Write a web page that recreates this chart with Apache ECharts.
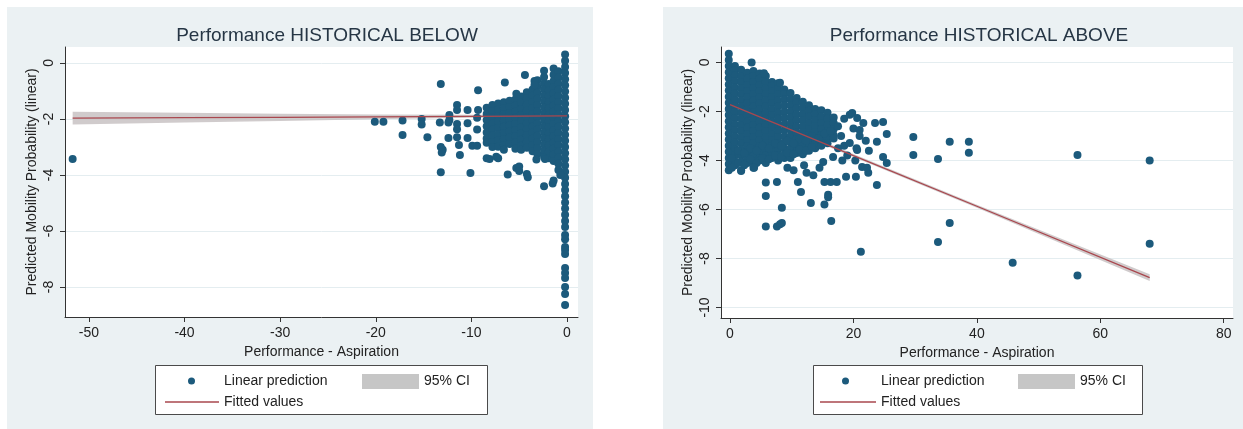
<!DOCTYPE html>
<html>
<head>
<meta charset="utf-8" />
<script src="https://cdn.jsdelivr.net/npm/echarts@6/dist/echarts.min.js"></script>
<style>
	body { margin: 0; background: #ffffff; }
	#wrap { position: relative; width: 1243px; height: 429px; }
	.panel { position: absolute; background: #ebf1f3; }
	#main { position: absolute; left: 0; top: 0; width: 1243px; height: 429px; }
</style>
</head>
<body>
<div id="wrap">
	<div class="panel" style="left:7px; top:7px; width:586px; height:422px"></div>
	<div class="panel" style="left:663px; top:7px; width:580px; height:422px"></div>
	<div id="main"></div>
</div>
<script type="text/javascript">
	var FONT = '"Liberation Sans", Arial, sans-serif';

	var leftXTicks = [-50, -40, -30, -20, -10, 0];
	var leftYTicks = [0, -2, -4, -6, -8];
	var rightXTicks = [0, 20, 40, 60, 80];
	var rightYTicks = [0, -2, -4, -6, -8, -10];

	// left panel: dense stripes near zero, [x, [y...]]
	var leftStripes = [
		[-8.4, [-1.6, -1.82, -2.04, -2.26, -2.48, -2.7, -2.85]],
		[-7.8, [-1.5, -1.72, -1.94, -2.16, -2.38, -2.6, -2.82, -3.0]],
		[-7.2, [-1.45, -1.67, -1.89, -2.11, -2.33, -2.55, -2.77, -2.99]],
		[-6.6, [-1.4, -1.62, -1.84, -2.06, -2.28, -2.5, -2.72, -2.94, -3.1]],
		[-6.0, [-1.35, -1.57, -1.79, -2.01, -2.23, -2.45, -2.67, -2.89]],
		[-5.4, [-1.3, -1.52, -1.74, -1.96, -2.18, -2.4, -2.62, -2.84, -3.06]],
		[-4.8, [-1.2, -1.42, -1.64, -1.86, -2.08, -2.3, -2.52, -2.74, -2.96, -3.1]],
		[-4.2, [-1.05, -1.27, -1.49, -1.71, -1.93, -2.15, -2.37, -2.59, -2.81, -3.03]],
		[-3.6, [-0.95, -1.17, -1.39, -1.61, -1.83, -2.05, -2.27, -2.49, -2.71, -2.93, -3.15]],
		[-3.1, [-0.62, -0.84, -1.06, -1.28, -1.5, -1.72, -1.94, -2.16, -2.38, -2.6, -2.82, -3.04, -3.25]],
		[-2.4, [-0.28, -0.5, -0.72, -0.94, -1.16, -1.38, -1.6, -1.82, -2.04, -2.26, -2.48, -2.7, -2.92, -3.14, -3.36]],
		[-1.9, [-0.75, -0.97, -1.19, -1.41, -1.63, -1.85, -2.07, -2.29, -2.51, -2.73, -2.95, -3.17, -3.4]],
		[-1.4, [-0.2, -0.42, -0.64, -0.86, -1.08, -1.3, -1.52, -1.74, -1.96, -2.18, -2.4, -2.62, -2.84, -3.06, -3.28, -3.5]],
		[-0.9, [-0.3, -0.52, -0.74, -0.96, -1.18, -1.4, -1.62, -1.84, -2.06, -2.28, -2.5, -2.72, -2.94, -3.16, -3.38, -3.6, -3.82]],
		[-0.2, [0.3, 0.08, -0.14, -0.36, -0.58, -0.8, -1.02, -1.24, -1.46, -1.68, -1.9, -2.12, -2.34, -2.56, -2.78, -3.0,
			-3.22, -3.44, -3.66, -3.88, -4.1, -4.32, -4.54, -4.76, -4.98, -5.2, -5.42, -5.64,
			-5.86, -6.14, -6.29, -6.57, -6.68, -6.82, -7.32, -7.5, -7.68, -8.0, -8.25, -8.64]]
	];
	var leftPoints = [
		[-51.7, -3.43], [-20.1, -2.1], [-19.2, -2.1], [-17.2, -2.05], [-17.2, -2.57], [-15.2, -2.0], [-15.2, -2.2],
		[-14.6, -2.65], [-13.2, -0.75], [-13.3, -2.13], [-13.2, -3.0], [-13.0, -3.1], [-13.1, -3.2], [-13.2, -3.9],
		[-12.3, -1.86], [-12.3, -2.04], [-12.4, -2.13], [-12.4, -2.68], [-11.5, -1.5], [-11.5, -1.68], [-11.5, -2.18],
		[-11.5, -2.37], [-11.5, -2.65], [-11.3, -2.93], [-11.2, -3.29], [-10.4, -1.68], [-10.4, -2.15], [-10.4, -2.68],
		[-10.1, -3.93], [-9.9, -2.96], [-9.4, -2.96], [-9.3, -0.97], [-9.3, -1.68], [-9.4, -1.96], [-9.4, -2.38],
		[-8.4, -3.4], [-8.1, -3.43], [-7.4, -3.35], [-7.2, -3.4], [-6.5, -0.7], [-6.2, -3.98], [-5.3, -1.1],
		[-5.3, -3.75], [-5.0, -3.7], [-5.0, -3.86], [-4.4, -0.43], [-4.2, -3.96], [-4.1, -4.08], [-3.4, -0.64],
		[-3.4, -0.79], [-3.2, -3.45], [-2.3, -3.43], [-2.4, -4.4], [-1.5, -4.3], [-1.4, -4.2], [-0.7, -4.0]
	];
	var leftFitX = [-51.7, -40, -30, -20, -10, 0];
	var leftFit = [-1.97, -1.955, -1.94, -1.925, -1.905, -1.89];
	var leftCiLow = [-2.2, -2.13, -2.07, -2.01, -1.96, -1.93];
	var leftCiHigh = [-1.74, -1.78, -1.81, -1.84, -1.85, -1.85];

	// right panel
	var rightStripes = [
		[-0.2, [0.35, 0.1, -0.15, -0.4, -0.65, -0.9, -1.15, -1.4, -1.65, -1.9, -2.15, -2.4, -2.65, -2.9, -3.15, -3.4, -3.65, -3.9, -4.15, -4.4]],
		[0.8, [-0.15, -0.32, -0.53, -0.78, -1.03, -1.28, -1.53, -1.78, -2.03, -2.28, -2.53, -2.78, -3.03, -3.28, -3.53, -3.78, -4.03, -4.2]],
		[1.8, [-0.3, -0.55, -0.8, -1.05, -1.3, -1.55, -1.8, -2.05, -2.3, -2.55, -2.8, -3.05, -3.3, -3.55, -3.8, -4.05, -4.4]],
		[2.8, [-0.42, -0.67, -0.92, -1.17, -1.42, -1.67, -1.92, -2.17, -2.42, -2.67, -2.92, -3.17, -3.42, -3.67, -3.92, -4.1]],
		[3.8, [-0.35, -0.55, -0.8, -1.05, -1.3, -1.55, -1.8, -2.05, -2.3, -2.55, -2.8, -3.05, -3.3, -3.55, -3.8, -4.05, -4.3]],
		[4.8, [-0.45, -0.67, -0.92, -1.17, -1.42, -1.67, -1.92, -2.17, -2.42, -2.67, -2.92, -3.17, -3.42, -3.67, -3.92, -4.0]],
		[5.8, [-0.55, -0.8, -1.05, -1.3, -1.55, -1.8, -2.05, -2.3, -2.55, -2.8, -3.05, -3.3, -3.55, -3.8, -4.1]],
		[6.8, [-0.8, -0.95, -1.17, -1.42, -1.67, -1.92, -2.17, -2.42, -2.67, -2.92, -3.17, -3.42, -3.67, -3.9]],
		[7.8, [-0.85, -1.05, -1.3, -1.55, -1.8, -2.05, -2.3, -2.55, -2.8, -3.05, -3.3, -3.55, -3.8, -4.0]],
		[8.8, [-1.1, -1.3, -1.52, -1.77, -2.02, -2.27, -2.52, -2.77, -3.02, -3.27, -3.52, -3.77, -3.9]],
		[9.8, [-1.25, -1.5, -1.75, -2.0, -2.25, -2.5, -2.75, -3.0, -3.25, -3.5, -3.75, -3.9]],
		[10.8, [-1.45, -1.62, -1.87, -2.12, -2.37, -2.62, -2.87, -3.12, -3.37, -3.62, -3.7]],
		[11.8, [-1.6, -1.85, -2.1, -2.35, -2.6, -2.85, -3.1, -3.35, -3.6, -3.75]],
		[12.8, [-1.75, -1.97, -2.22, -2.47, -2.72, -2.97, -3.22, -3.47, -3.6]],
		[13.8, [-1.9, -2.1, -2.35, -2.6, -2.85, -3.1, -3.35, -3.5]],
		[14.8, [-1.95, -2.22, -2.47, -2.72, -2.97, -3.22, -3.4]],
		[15.8, [-2.05, -2.3, -2.55, -2.8, -3.05, -3.3]],
		[16.8, [-2.25, -2.47, -2.72, -2.97, -3.1]]
	];
	// in-between values that close the gaps at the bottom of the right cloud
	var rightFill = [
		[0.3, -3.9], [0.3, -4.3], [1.3, -3.6], [1.3, -4.1], [2.3, -3.7], [2.3, -4.2], [3.3, -3.5], [3.3, -3.95],
		[4.3, -3.6], [4.3, -4.1], [5.3, -3.4], [5.3, -3.9], [6.3, -3.5], [6.3, -3.95], [7.3, -3.3], [7.3, -3.8],
		[8.3, -3.4], [8.3, -3.85], [9.3, -3.2], [9.3, -3.7], [10.3, -3.3], [10.3, -3.75], [11.3, -3.1], [11.3, -3.55],
		[12.3, -3.2], [12.3, -3.6], [13.3, -3.0], [13.3, -3.45], [14.3, -3.1], [15.3, -2.9], [16.3, -2.8]
	];
	var rightPoints = [
		[3.5, 0.0], [5.5, -0.44], [8.1, -0.83],
		[1.8, -4.43], [3.9, -4.3], [5.8, -4.9], [5.8, -5.45], [5.8, -6.7], [7.6, -6.7], [8.1, -6.6], [8.4, -6.55],
		[8.4, -5.93], [7.6, -4.88], [9.3, -4.3], [10.3, -4.4], [11.0, -4.88], [11.5, -5.29], [12.0, -4.2], [12.4, -4.5],
		[13.1, -5.74], [13.5, -4.6], [14.5, -4.3], [15.1, -4.06], [15.3, -4.88], [15.3, -5.8], [15.9, -5.4], [15.9, -5.5],
		[16.3, -4.88], [16.4, -6.47], [16.7, -3.86], [17.3, -4.88], [18.8, -4.67], [20.4, -4.67], [21.4, -4.27],
		[22.4, -4.5], [23.8, -5.0], [24.8, -3.86], [25.4, -4.1], [21.2, -7.73],
		[17.5, -2.6], [18.0, -3.0], [18.5, -3.4], [18.5, -2.3], [19.4, -2.14], [19.8, -2.06], [20.6, -2.27],
		[21.6, -2.47], [20.0, -2.7], [21.0, -2.76], [21.0, -3.0], [22.0, -3.2], [23.5, -2.47], [24.8, -2.43],
		[25.4, -2.92], [23.8, -3.24], [22.5, -3.6], [20.5, -3.5], [19.4, -3.29], [20.6, -3.57], [19.0, -3.8],
		[20.3, -4.0], [22.2, -4.3], [17.5, -3.5], [18.2, -4.0],
		[29.7, -3.04], [29.7, -3.78], [33.7, -3.94], [35.6, -3.24], [38.7, -3.24], [38.7, -3.69], [35.6, -6.55],
		[33.7, -7.33], [45.8, -8.18], [56.3, -3.78], [56.3, -8.7], [68.0, -4.0], [68.0, -7.4]
	];
	var rightFitX = [0, 20, 40, 68];
	var rightFit = [-1.72, -3.8, -5.87, -8.78];
	var rightCiLow = [-1.82, -3.86, -5.93, -8.92];
	var rightCiHigh = [-1.62, -3.74, -5.81, -8.64];

	function stripePoints(stripes, extra) {
		var out = [];
		stripes.forEach(function (s) {
			s[1].forEach(function (y) { out.push([s[0], y]); });
		});
		return out.concat(extra);
	}
	function pairs(xs, ys) {
		return xs.map(function (x, i) { return [x, ys[i]]; });
	}

	var axisColor = '#333333';
	var labelStyle = { fontSize: 14, color: '#222222', fontFamily: FONT };
	var dotColor = '#1c5a7c';
	var fitColor = '#a9474e';
	var ciColor = '#c6c6c6';

	function xAxisFor(grid, min, max, ticks) {
		return {
			type: 'value', gridIndex: grid, min: min, max: max,
			name: 'Performance - Aspiration', nameLocation: 'middle', nameGap: 26,
			nameTextStyle: labelStyle,
			axisLine: { show: true, onZero: false, lineStyle: { color: axisColor } },
			axisTick: { show: true, length: 5, customValues: ticks, lineStyle: { color: axisColor } },
			axisLabel: Object.assign({ customValues: ticks, margin: 9 }, labelStyle),
			splitLine: { show: false }
		};
	}
	function yAxisFor(grid, min, max, ticks) {
		return {
			type: 'value', gridIndex: grid, min: min, max: max,
			name: 'Predicted Mobility Probability (linear)', nameLocation: 'middle', nameGap: 26,
			nameTextStyle: labelStyle,
			axisLine: { show: true, onZero: false, lineStyle: { color: axisColor } },
			axisTick: { show: true, length: 5, customValues: ticks, lineStyle: { color: axisColor } },
			axisLabel: Object.assign({ customValues: ticks, margin: 9, rotate: 90 }, labelStyle),
			splitLine: { show: true, lineStyle: { color: '#e4edf0', width: 1 } }
		};
	}

	function seriesFor(idx, stripes, extra, fitX, fit, lo, hi) {
		return [
			{
				name: 'Linear prediction', type: 'scatter', xAxisIndex: idx, yAxisIndex: idx,
				symbolSize: 8, itemStyle: { color: dotColor, opacity: 1 },
				data: stripePoints(stripes, extra)
			},
			{
				// confidence band as one polygon: upper edge out, lower edge back
				name: '95% CI', type: 'custom', xAxisIndex: idx, yAxisIndex: idx, silent: true,
				itemStyle: { color: ciColor },
				data: fitX.map(function (x, i) { return [x, lo[i], hi[i]]; }),
				encode: { x: 0, y: [1, 2] },
				renderItem: function (params, api) {
					if (params.dataIndex !== 0) return;
					var pts = [];
					for (var i = 0; i < fitX.length; i++) pts.push(api.coord([fitX[i], hi[i]]));
					for (var j = fitX.length - 1; j >= 0; j--) pts.push(api.coord([fitX[j], lo[j]]));
					return { type: 'polygon', shape: { points: pts }, style: { fill: 'rgba(196,190,191,0.8)' } };
				}
			},
			{
				name: 'Fitted values', type: 'line', xAxisIndex: idx, yAxisIndex: idx,
				symbol: 'none', silent: true,
				itemStyle: { color: fitColor },
				lineStyle: { color: fitColor, width: 1.3 },
				data: pairs(fitX, fit)
			}
		];
	}

	function legendsFor(xDot, xLine, xCi, w) {
		var ts = { fontSize: 14, color: '#222222', fontFamily: FONT };
		return [
			{ left: xDot, top: 374, padding: 0, selectedMode: false, itemWidth: 7, itemHeight: 7,
				textStyle: Object.assign({ padding: [0, 0, 0, xLine + w - xDot - 7] }, ts),
				data: [{ name: 'Linear prediction', icon: 'circle', itemStyle: { color: dotColor } }] },
			{ left: xCi, top: 374, padding: 0, selectedMode: false, itemWidth: 57, itemHeight: 15, textStyle: ts,
				data: [{ name: '95% CI', icon: 'rect', itemStyle: { color: ciColor } }] },
			{ left: xLine, top: 395, padding: 0, selectedMode: false, itemWidth: w, itemHeight: 1.3, textStyle: ts,
				data: [{ name: 'Fitted values', icon: 'rect', itemStyle: { color: fitColor } }] }
		];
	}

	var myChart = echarts.init(document.getElementById('main'));

	var option = {
		animation: false,
		backgroundColor: 'transparent',
		title: [
			{ text: 'Performance HISTORICAL BELOW', left: 322, top: 21, textAlign: 'center',
				textStyle: { fontSize: 19, fontWeight: 'normal', color: '#263645', fontFamily: FONT } },
			{ text: 'Performance HISTORICAL ABOVE', left: 974, top: 21, textAlign: 'center',
				textStyle: { fontSize: 19, fontWeight: 'normal', color: '#263645', fontFamily: FONT } }
		],
		graphic: [
			{ type: 'rect', shape: { x: 155.5, y: 365.5, width: 332, height: 49 },
				style: { fill: '#ffffff', stroke: '#4a4a4a', lineWidth: 1 } },
			{ type: 'rect', shape: { x: 813.5, y: 365.5, width: 329, height: 49 },
				style: { fill: '#ffffff', stroke: '#4a4a4a', lineWidth: 1 } }
		],
		legend: legendsFor(188, 165, 362, 54).concat(legendsFor(842, 820, 1018, 56)),
		grid: [
			{ left: 65, right: 665, top: 47, bottom: 112, show: true, backgroundColor: '#ffffff', borderWidth: 0 },
			{ left: 721, right: 10, top: 47, bottom: 111, show: true, backgroundColor: '#ffffff', borderWidth: 0 }
		],
		xAxis: [
			xAxisFor(0, -52.5, 1.15, leftXTicks),
			xAxisFor(1, -1.46, 81.5, rightXTicks)
		],
		yAxis: [
			yAxisFor(0, -9.07, 0.57, leftYTicks),
			yAxisFor(1, -10.43, 0.63, rightYTicks)
		],
		series: seriesFor(0, leftStripes, leftPoints, leftFitX, leftFit, leftCiLow, leftCiHigh)
			.concat(seriesFor(1, rightStripes, rightFill.concat(rightPoints), rightFitX, rightFit, rightCiLow, rightCiHigh))
	};

	myChart.setOption(option);
</script>
</body>
</html>
